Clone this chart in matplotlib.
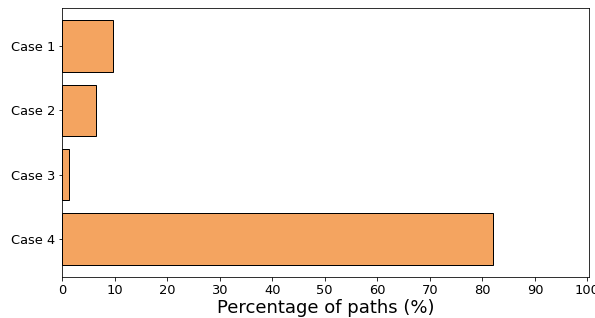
import matplotlib
matplotlib.use("Agg")
import matplotlib.pyplot as plt

categories = ["Case 1", "Case 2", "Case 3", "Case 4"]
values = [9.7, 6.4, 1.3, 82.1]
xticks = [0, 10, 20, 30, 40, 50, 60, 70, 80, 90, 100]

DPI = 72
fig = plt.figure(figsize=(595/DPI, 318/DPI), dpi=DPI)
ax = fig.add_axes([62/595, 1-277/318, (589-62)/595, (277-8)/318])
ax.barh(categories, values, height=0.8, color="#F4A460", edgecolor="black", linewidth=1)
ax.invert_yaxis()
ax.set_xlim(0, 100.3)
ax.set_xticks(xticks)
ax.tick_params(labelsize=13)
ax.set_xlabel("Percentage of paths (%)", fontsize=18, labelpad=2)
fig.savefig("out.png", dpi=DPI)
